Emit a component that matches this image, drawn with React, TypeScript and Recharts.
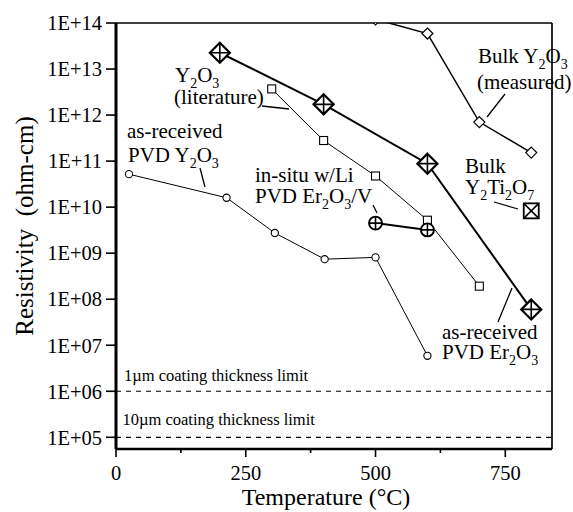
import React from 'react';
import { ComposedChart, Line, XAxis, YAxis, ReferenceLine, Customized } from 'recharts';

const bulkY2O3Temp = [500, 600, 700, 800];
const bulkY2O3Res = [1.2e14, 5.9e13, 7.05e11, 1.53e11];
const er2o3Temp = [200, 400, 600, 800];
const er2o3Res = [2.26e13, 1.71e12, 8.8e10, 6.0e7];
const litTemp = [300, 400, 500, 600, 700];
const litRes = [3.7e12, 2.8e11, 4.75e10, 5.2e9, 1.92e8];
const pvdY2O3Temp = [25, 213, 306, 402, 500, 600];
const pvdY2O3Res = [5.2e10, 1.6e10, 2.75e9, 7.4e8, 8.1e8, 5.9e6];
const inSituTemp = [500, 600];
const inSituRes = [4.5e9, 3.2e9];
const y2ti2o7Temp = [800];
const y2ti2o7Res = [8.3e9];
const limitValues = [1e6, 1e5];
const limitLabels = ['1\u00b5m coating thickness limit', '10\u00b5m coating thickness limit'];

const xTicks = [0, 125, 250, 375, 500, 625, 750];
const xLabelTicks = [0, 250, 500, 750];
const yTicks = [1e5, 1e6, 1e7, 1e8, 1e9, 1e10, 1e11, 1e12, 1e13, 1e14];

const FONT = '"Liberation Serif", "Times New Roman", Times, serif';

const zip = (xs: number[], ys: number[]) => xs.map((x, i) => ({ t: x, r: ys[i] }));

const bulkData = zip(bulkY2O3Temp, bulkY2O3Res);
const er2o3Data = zip(er2o3Temp, er2o3Res);
const litData = zip(litTemp, litRes);
const pvdData = zip(pvdY2O3Temp, pvdY2O3Res);
const inSituData = zip(inSituTemp, inSituRes);
const ytoData = zip(y2ti2o7Temp, y2ti2o7Res);

const ok = (p: any) => p.cx != null && p.cy != null && !isNaN(p.cx) && !isNaN(p.cy);

const DiamondDot = (p: any) => {
  if (!ok(p)) return <g key={p.index} />;
  const { cx, cy } = p;
  const s = 5.5;
  return (
    <path key={p.index} d={`M${cx},${cy - s}L${cx + s},${cy}L${cx},${cy + s}L${cx - s},${cy}Z`} fill="#fff" stroke="#000" strokeWidth={1.2} />
  );
};

const CrossDiamondDot = (p: any) => {
  if (!ok(p)) return <g key={p.index} />;
  const { cx, cy } = p;
  const s = 10;
  return (
    <g key={p.index}>
      <path d={`M${cx},${cy - s}L${cx + s},${cy}L${cx},${cy + s}L${cx - s},${cy}Z`} fill="#fff" stroke="#000" strokeWidth={2.2} />
      <path d={`M${cx},${cy - s}L${cx},${cy + s}M${cx - s},${cy}L${cx + s},${cy}`} stroke="#000" strokeWidth={1.6} />
    </g>
  );
};

const SquareDot = (p: any) => {
  if (!ok(p)) return <g key={p.index} />;
  const { cx, cy } = p;
  const s = 4;
  return <rect key={p.index} x={cx - s} y={cy - s} width={2 * s} height={2 * s} fill="#fff" stroke="#000" strokeWidth={1.1} />;
};

const CircleDot = (p: any) => {
  if (!ok(p)) return <g key={p.index} />;
  return <circle key={p.index} cx={p.cx} cy={p.cy} r={3.6} fill="#fff" stroke="#000" strokeWidth={1.1} />;
};

const PlusCircleDot = (p: any) => {
  if (!ok(p)) return <g key={p.index} />;
  const { cx, cy } = p;
  const r = 6.5;
  return (
    <g key={p.index}>
      <circle cx={cx} cy={cy} r={r} fill="#fff" stroke="#000" strokeWidth={1.9} />
      <path d={`M${cx},${cy - r}L${cx},${cy + r}M${cx - r},${cy}L${cx + r},${cy}`} stroke="#000" strokeWidth={1.6} />
    </g>
  );
};

const XSquareDot = (p: any) => {
  if (!ok(p)) return <g key={p.index} />;
  const { cx, cy } = p;
  const s = 7.5;
  return (
    <g key={p.index}>
      <rect x={cx - s} y={cy - s} width={2 * s} height={2 * s} fill="#fff" stroke="#000" strokeWidth={1.8} />
      <path d={`M${cx - s},${cy - s}L${cx + s},${cy + s}M${cx + s},${cy - s}L${cx - s},${cy + s}`} stroke="#000" strokeWidth={1.5} />
    </g>
  );
};

const XTick = (p: any) => {
  const { x, y, payload } = p;
  const v = payload.value;
  const major = xLabelTicks.includes(v);
  return (
    <g>
      <line x1={x} y1={y} x2={x} y2={y + (major ? 8 : 4)} stroke="#000" strokeWidth={1.6} />
      {major && (
        <text x={x} y={y + 31} textAnchor="middle" fontFamily={FONT} fontSize={20.5} fill="#000">
          {v}
        </text>
      )}
    </g>
  );
};

const yFmt = (v: number) => '1E+' + String(Math.round(Math.log10(v))).padStart(2, '0');

const SUB = 14;
const SHIFT = 6;

// parts: strings; a leading '_' marks a subscript
const Chem = ({ x, y, parts }: { x: number; y: number; parts: string[] }) => {
  let shifted = false;
  const spans = parts.map((p, i) => {
    const isSub = p.startsWith('_');
    const txt = isSub ? p.slice(1) : p;
    let dy = 0;
    if (isSub && !shifted) dy = SHIFT;
    if (!isSub && shifted) dy = -SHIFT;
    shifted = isSub;
    return (
      <tspan key={i} dy={dy || undefined} fontSize={isSub ? SUB : undefined}>
        {txt}
      </tspan>
    );
  });
  return (
    <text x={x} y={y} fontFamily={FONT} fontSize={21} fill="#000" style={{ whiteSpace: 'pre' }}>
      {spans}
    </text>
  );
};

const T = (props: any) => <text fontFamily={FONT} fontSize={21} fill="#000" {...props} />;
const L = ({ x1, y1, x2, y2 }: any) => <line x1={x1} y1={y1} x2={x2} y2={y2} stroke="#000" strokeWidth={1.3} />;

const Annotations = () => (
  <g>
    <text transform="rotate(-90)" x={-226} y={33} textAnchor="middle" fontFamily={FONT} fontSize={25} fill="#000" style={{ whiteSpace: 'pre' }}>
      {'Resistivity  (ohm-cm)'}
    </text>
    <text x={326} y={505} textAnchor="middle" fontFamily={FONT} fontSize={24} fill="#000">
      Temperature (°C)
    </text>
    <text x={124} y={381} fontFamily={FONT} fontSize={16.5} fill="#000">{limitLabels[0]}</text>
    <text x={122.5} y={425} fontFamily={FONT} fontSize={16.5} fill="#000">{limitLabels[1]}</text>

    <Chem x={175} y={82} parts={['Y', '_2', 'O', '_3']} />
    <T x={174} y={104}>(literature)</T>
    <L x1={262} y1={106} x2={289} y2={109} />

    <T x={127} y={138}>as-received</T>
    <Chem x={128} y={162} parts={['PVD Y', '_2', 'O', '_3']} />
    <L x1={200} y1={168} x2={205} y2={187} />

    <T x={255} y={182}>in-situ w/Li</T>
    <Chem x={255} y={203} parts={['PVD Er', '_2', 'O', '_3', '/V']} />
    <L x1={373} y1={205} x2={377} y2={213} />

    <Chem x={478} y={63} parts={['Bulk Y', '_2', 'O', '_3']} />
    <T x={477} y={89}>(measured)</T>
    <L x1={505} y1={94} x2={487} y2={117} />

    <T x={465} y={173}>Bulk</T>
    <Chem x={465} y={194} parts={['Y', '_2', 'Ti', '_2', 'O', '_7']} />
    <L x1={494} y1={202} x2={518} y2={209} />

    <T x={442} y={339}>as-received</T>
    <Chem x={442} y={359} parts={['PVD Er', '_2', 'O', '_3']} />
    <L x1={498} y1={322} x2={512} y2={288} />
  </g>
);

export default function App() {
  return (
    <div style={{ position: 'absolute', left: 0, top: 0, background: '#fff' }}>
      <ComposedChart width={573} height={512} margin={{ top: 23, right: 21, left: 16, bottom: 23 }}>
        <XAxis
          dataKey="t"
          type="number"
          domain={[0, 840]}
          allowDataOverflow
          ticks={xTicks}
          interval={0}
          tick={<XTick />}
          tickLine={false}
          tickSize={0}
          tickMargin={0}
          height={40}
          axisLine={{ stroke: '#000', strokeWidth: 2.6 }}
        />
        <YAxis
          dataKey="r"
          scale="log"
          type="number"
          domain={[55700, 1e14]}
          allowDataOverflow
          ticks={yTicks}
          interval={0}
          tickFormatter={yFmt}
          width={100}
          tickSize={10}
          tickMargin={4}
          tick={{ fill: '#000', fontFamily: FONT, fontSize: 20.5 }}
          tickLine={{ stroke: '#000', strokeWidth: 1.6 }}
          axisLine={{ stroke: '#000', strokeWidth: 3 }}
        />
        <ReferenceLine y={1e14} stroke="#000" strokeWidth={1.7} />
        <ReferenceLine x={840} stroke="#000" strokeWidth={1.7} />
        {limitValues.map((v) => (
          <ReferenceLine key={v} y={v} stroke="#000" strokeWidth={1.2} strokeDasharray="5 5" />
        ))}
        <Line data={litData} dataKey="r" type="linear" stroke="#000" strokeWidth={1} dot={SquareDot} isAnimationActive={false} />
        <Line data={pvdData} dataKey="r" type="linear" stroke="#000" strokeWidth={1} dot={CircleDot} isAnimationActive={false} />
        <Line data={bulkData} dataKey="r" type="linear" stroke="#000" strokeWidth={1.5} dot={DiamondDot} isAnimationActive={false} />
        <Line data={er2o3Data} dataKey="r" type="linear" stroke="#000" strokeWidth={2} dot={CrossDiamondDot} isAnimationActive={false} />
        <Line data={inSituData} dataKey="r" type="linear" stroke="#000" strokeWidth={2} dot={PlusCircleDot} isAnimationActive={false} />
        <Line data={ytoData} dataKey="r" type="linear" stroke="none" dot={XSquareDot} isAnimationActive={false} />
        <Customized component={Annotations} />
      </ComposedChart>
    </div>
  );
}
